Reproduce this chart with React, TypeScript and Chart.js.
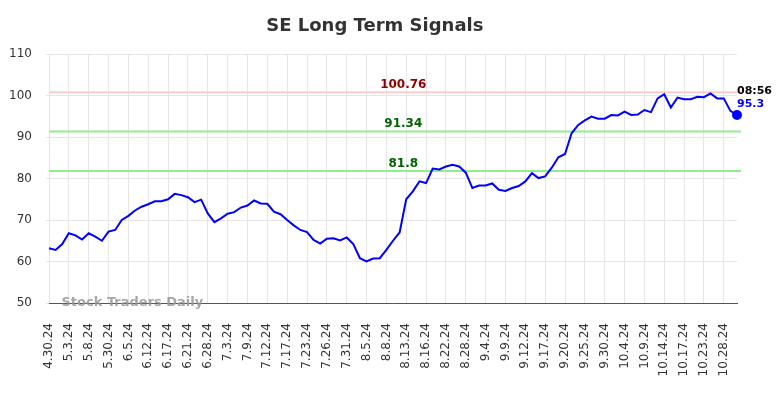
import React, { useEffect, useRef } from "react";
import { Chart, registerables } from "chart.js";

Chart.register(...registerables);

const TITLE = "SE Long Term Signals";
const WATERMARK = "Stock Traders Daily";
const LAST_TIME = "08:56";

const DATES = [
  "4.30.24", "5.1.24", "5.2.24", "5.3.24", "5.6.24", "5.7.24", "5.8.24", "5.28.24", "5.29.24",
  "5.30.24", "5.31.24", "6.3.24", "6.5.24", "6.7.24", "6.10.24", "6.12.24", "6.13.24", "6.14.24",
  "6.17.24", "6.18.24", "6.20.24", "6.21.24", "6.24.24", "6.26.24", "6.28.24", "7.1.24", "7.2.24",
  "7.3.24", "7.5.24", "7.8.24", "7.9.24", "7.10.24", "7.11.24", "7.12.24", "7.15.24", "7.16.24",
  "7.17.24", "7.18.24", "7.22.24", "7.23.24", "7.24.24", "7.25.24", "7.26.24", "7.29.24", "7.30.24",
  "7.31.24", "8.1.24", "8.2.24", "8.5.24", "8.6.24", "8.7.24", "8.8.24", "8.9.24", "8.12.24",
  "8.13.24", "8.14.24", "8.15.24", "8.16.24", "8.19.24", "8.21.24", "8.22.24", "8.23.24", "8.26.24",
  "8.28.24", "8.29.24", "9.3.24", "9.4.24", "9.5.24", "9.6.24", "9.9.24", "9.10.24", "9.11.24",
  "9.12.24", "9.13.24", "9.16.24", "9.17.24", "9.18.24", "9.19.24", "9.20.24", "9.23.24", "9.24.24",
  "9.25.24", "9.26.24", "9.27.24", "9.30.24", "10.2.24", "10.3.24", "10.4.24", "10.7.24", "10.8.24",
  "10.9.24", "10.10.24", "10.11.24", "10.14.24", "10.15.24", "10.16.24", "10.17.24", "10.18.24", "10.22.24",
  "10.23.24", "10.24.24", "10.25.24", "10.28.24", "10.29.24", "10.30.24",
];

const VALUES = [
  63.2, 62.8, 64.2, 66.8, 66.3, 65.3, 66.8, 66.0, 65.0, 67.2,
  67.6, 70.0, 71.0, 72.3, 73.2, 73.8, 74.5, 74.5, 75.0, 76.3,
  76.0, 75.5, 74.3, 74.9, 71.6, 69.5, 70.4, 71.5, 71.9, 73.0,
  73.5, 74.7, 74.0, 73.9, 72.0, 71.4, 70.0, 68.7, 67.6, 67.1,
  65.2, 64.3, 65.5, 65.6, 65.1, 65.8, 64.2, 60.8, 60.0, 60.7,
  60.8, 62.8, 65.0, 67.0, 75.0, 76.9, 79.3, 78.9, 82.4, 82.2,
  82.9, 83.3, 82.9, 81.4, 77.7, 78.3, 78.3, 78.8, 77.3, 77.0,
  77.7, 78.2, 79.3, 81.3, 80.1, 80.5, 82.6, 85.1, 85.9, 90.9,
  92.9, 94.0, 94.9, 94.4, 94.4, 95.3, 95.2, 96.1, 95.3, 95.4,
  96.5, 96.0, 99.3, 100.3, 97.1, 99.5, 99.1, 99.1, 99.7, 99.6,
  100.5, 99.3, 99.3, 96.3, 95.3,
];

const LEVELS = [100.76, 91.34, 81.8];
const LEVEL_LABELS = ["100.76", "91.34", "81.8"];
const LEVEL_LINE_COLORS = ["#ffcccc", "#90ee90", "#90ee90"];
const LEVEL_TEXT_COLORS = ["#8b0000", "#006400", "#006400"];

const Y_MIN = 50;
const Y_MAX = 110;
const Y_STEP = 10;
const LABEL_EVERY = 3;

const FONT = "'DejaVu Sans', sans-serif";

const levelLinesPlugin = {
  id: "levelLines",
  beforeDatasetsDraw(chart: any) {
    const { ctx, chartArea, scales } = chart;
    ctx.save();
    LEVELS.forEach((lv, i) => {
      const y = scales.y.getPixelForValue(lv);
      ctx.strokeStyle = LEVEL_LINE_COLORS[i];
      ctx.lineWidth = 2;
      ctx.beginPath();
      ctx.moveTo(chartArea.left, y);
      ctx.lineTo(chartArea.right + 4, y);
      ctx.stroke();
    });
    ctx.restore();
  },
  afterDraw(chart: any) {
    const { ctx, chartArea, scales } = chart;
    ctx.save();
    // level labels
    ctx.font = `bold 12px ${FONT}`;
    ctx.textAlign = "center";
    ctx.textBaseline = "alphabetic";
    const lx = chartArea.left + (chartArea.right - chartArea.left) * 0.515;
    LEVELS.forEach((lv, i) => {
      const y = scales.y.getPixelForValue(lv);
      ctx.fillStyle = LEVEL_TEXT_COLORS[i];
      ctx.fillText(LEVEL_LABELS[i], lx, y - 4);
    });
    // title
    ctx.font = `bold 18px ${FONT}`;
    ctx.fillStyle = "#333333";
    ctx.textBaseline = "middle";
    ctx.fillText(TITLE, chartArea.left + (chartArea.right - chartArea.left) * 0.4736, 18);
    // watermark
    ctx.font = `bold 13px ${FONT}`;
    ctx.fillStyle = "rgba(150,150,150,0.85)";
    ctx.textAlign = "left";
    ctx.fillText(WATERMARK, chartArea.left + 12.5, chartArea.bottom - 0.5);
    // last point annotation
    const last = VALUES.length - 1;
    const px = scales.x.getPixelForValue(last);
    const py = scales.y.getPixelForValue(VALUES[last]);
    ctx.font = `bold 11px ${FONT}`;
    ctx.fillStyle = "#000000";
    ctx.fillText(LAST_TIME, px, py - 24);
    ctx.fillStyle = "#0000ff";
    ctx.fillText(String(VALUES[last]), px, py - 11);
    ctx.restore();
  },
};

export default function App() {
  const canvasRef = useRef<HTMLCanvasElement | null>(null);

  useEffect(() => {
    if (!canvasRef.current) return;
    const last = VALUES.length - 1;
    const chart = new Chart(canvasRef.current, {
      type: "line",
      data: {
        labels: DATES,
        datasets: [
          {
            data: VALUES,
            borderColor: "#0000ff",
            backgroundColor: "#0000ff",
            borderWidth: 2,
            pointRadius: (c: any) => (c.dataIndex === last ? 4 : 0),
            pointHoverRadius: 0,
            tension: 0,
            fill: false,
          },
        ],
      },
      options: {
        animation: false,
        responsive: true,
        maintainAspectRatio: false,
        layout: { padding: { top: 46, right: 39, left: 0, bottom: 0 } },
        plugins: {
          legend: { display: false },
          title: { display: false },
          tooltip: { enabled: false },
        },
        scales: {
          x: {
            offset: false,
            afterFit: (s: any) => {
              s.height = 87;
            },
            border: { display: true, color: "#555555", width: 1 },
            grid: {
              drawTicks: false,
              color: (c: any) => (c.index % LABEL_EVERY === 0 ? "#e6e6e6" : "rgba(0,0,0,0)"),
            },
            ticks: {
              autoSkip: false,
              minRotation: 90,
              maxRotation: 90,
              padding: 20,
              color: "#333333",
              font: { family: FONT, size: 12 },
              callback: (_v: any, i: number) => (i % LABEL_EVERY === 0 ? DATES[i] : ""),
            },
          },
          y: {
            min: Y_MIN,
            max: Y_MAX,
            afterFit: (s: any) => {
              s.width = 41;
            },
            border: { display: false },
            grid: { color: "#e6e6e6", tickLength: 3 },
            ticks: {
              stepSize: Y_STEP,
              padding: 14,
              color: "#333333",
              font: { family: FONT, size: 12 },
            },
          },
        },
      },
      plugins: [levelLinesPlugin],
    });
    return () => chart.destroy();
  }, []);

  return (
    <div style={{ width: 768, height: 382, position: "relative" }}>
      <canvas ref={canvasRef} />
    </div>
  );
}
